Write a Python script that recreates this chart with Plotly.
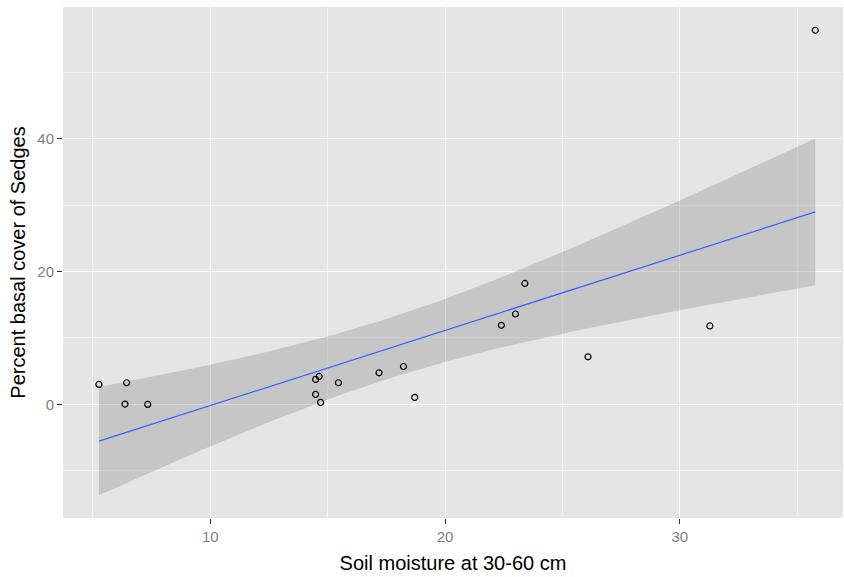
import numpy as np
import plotly.graph_objects as go

# Data
soil_moisture = [5.26, 6.44, 6.37, 7.34, 14.49, 14.64, 14.49, 14.70, 15.46,
                 17.19, 18.23, 18.71, 22.40, 23.00, 23.40, 26.09, 31.28, 35.77]
sedge_cover = [3.0, 3.25, 0.05, 0.0, 3.76, 4.2, 1.5, 0.3, 3.25,
               4.75, 5.7, 1.05, 11.9, 13.6, 18.2, 7.16, 11.8, 56.3]
x_ticks = [10, 20, 30]
y_ticks = [0, 20, 40]

x = np.array(soil_moisture)
y = np.array(sedge_cover)
n = len(x)

# Linear model fit (like geom_smooth(method="lm")), 95% confidence band
slope, intercept = np.polyfit(x, y, 1)
resid = y - (intercept + slope * x)
s = np.sqrt(np.sum(resid ** 2) / (n - 2))
sxx = np.sum((x - x.mean()) ** 2)
t_crit = 2.119905  # t(0.975, df=16)
xs = np.linspace(x.min(), x.max(), 80)
fit = intercept + slope * xs
se = s * np.sqrt(1.0 / n + (xs - x.mean()) ** 2 / sxx)
lower = fit - t_crit * se
upper = fit + t_crit * se

fig = go.Figure()
fig.add_trace(go.Scatter(
    x=np.concatenate([xs, xs[::-1]]), y=np.concatenate([upper, lower[::-1]]),
    fill="toself", fillcolor="rgba(153,153,153,0.4)", line=dict(width=0),
    mode="lines", hoverinfo="skip", showlegend=False))
fig.add_trace(go.Scatter(x=xs, y=fit, mode="lines",
                         line=dict(color="#3366FF", width=1.2), showlegend=False))
fig.add_trace(go.Scatter(x=soil_moisture, y=sedge_cover, mode="markers",
                         marker=dict(symbol="circle-open", size=6, color="black",
                                     line=dict(width=1.2, color="black")),
                         showlegend=False))

font_family = "Liberation Sans, Arial, sans-serif"
fig.update_layout(
    width=844, height=577,
    margin=dict(l=63, r=1, t=7, b=59),
    paper_bgcolor="white", plot_bgcolor="#E5E5E5",
    font=dict(family=font_family),
    showlegend=False,
)
fig.update_xaxes(
    range=[3.73, 36.95], tickvals=x_ticks, ticks="outside", ticklen=5,
    tickcolor="#333333", tickwidth=1,
    tickfont=dict(size=15, color="#7F7F7F", family=font_family),
    showgrid=True, gridcolor="white", gridwidth=1.2, zeroline=False,
    minor=dict(tickvals=[5, 15, 25, 35], showgrid=True, gridcolor="#F2F2F2", gridwidth=0.7),
    title=dict(text="Soil moisture at 30-60 cm", font=dict(size=20, color="black"), standoff=11),
    showline=False,
)
fig.update_yaxes(
    range=[-17.1, 59.8], tickvals=y_ticks, ticks="outside", ticklen=5,
    tickcolor="#333333", tickwidth=1,
    tickfont=dict(size=15, color="#7F7F7F", family=font_family),
    showgrid=True, gridcolor="white", gridwidth=1.2, zeroline=False,
    minor=dict(tickvals=[-10, 10, 30, 50], showgrid=True, gridcolor="#F2F2F2", gridwidth=0.7),
    title=dict(text="Percent basal cover of Sedges", font=dict(size=20, color="black"), standoff=6),
    showline=False,
)

fig.write_html("out.html")
